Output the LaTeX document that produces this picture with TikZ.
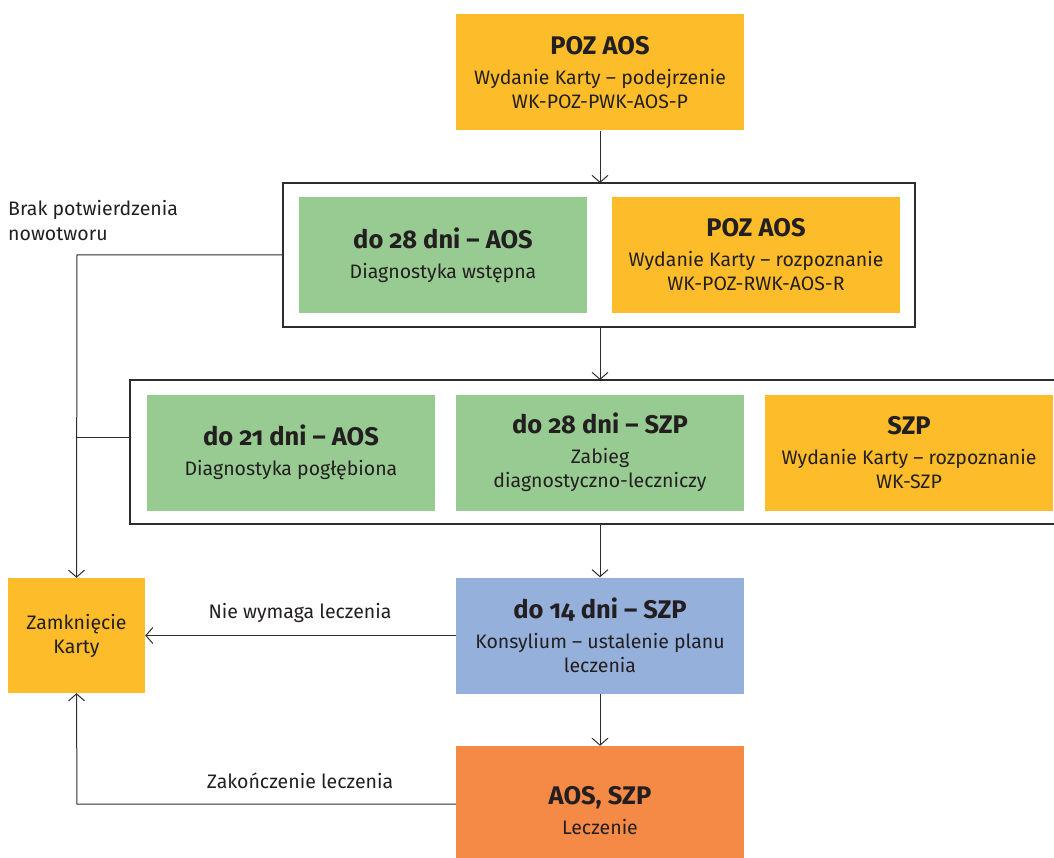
\documentclass[tikz,border=0pt]{standalone}
\usepackage{fontspec}
\setmainfont{Fira Sans}[Numbers=OldStyle]
\usetikzlibrary{arrows.meta}
\definecolor{cyel}{RGB}{253,188,42}
\definecolor{cgrn}{RGB}{152,203,146}
\definecolor{cblu}{RGB}{149,176,219}
\definecolor{corg}{RGB}{245,138,70}
\definecolor{ctxt}{RGB}{35,31,32}
\definecolor{cline}{RGB}{45,45,45}
\newcommand{\ttl}[1]{{\fontsize{25.5}{28}\selectfont\bfseries #1}\\[6pt]}
\tikzset{
  box/.style={inner sep=0pt, minimum width=288pt, minimum height=116pt, align=center, text=ctxt,
    font=\fontsize{19.5}{24}\selectfont},
  frame/.style={draw=cline, line width=1.3pt, fill=none},
  conn/.style={draw=cline, line width=1pt, -{Straight Barb[length=7pt,width=16pt,line width=1pt]}},
  plain/.style={draw=cline, line width=1pt},
  lbl/.style={text=ctxt, font=\fontsize{19.5}{24}\selectfont, inner sep=0pt}
}
\begin{document}
\begin{tikzpicture}[x=1pt,y=-1pt]
\useasboundingbox (0,0) rectangle (1054,858);
\clip (0,0) rectangle (1054,858);
% frames
\draw[frame] (283,183) rectangle (915,327);
\draw[frame] (130,380) rectangle (1070,524);
\coordinate (f1t) at (600,183);
\coordinate (f1b) at (600,327);
\coordinate (f2t) at (600,380);
\coordinate (f2b) at (600,524);
\coordinate (f1l) at (283,255);
\coordinate (f2l) at (130,437);
% boxes
\node[box, fill=cyel] (poz1) at (600,72.5) {\ttl{POZ AOS}Wydanie Karty – podejrzenie\\WK-POZ-PWK-AOS-P};
\node[box, fill=cgrn] (d28) at (443,255) {\ttl{do 28 dni – AOS}Diagnostyka wstępna};
\node[box, fill=cyel] (poz2) at (756,255) {\ttl{POZ AOS}Wydanie Karty – rozpoznanie\\WK-POZ-RWK-AOS-R};
\node[box, fill=cgrn] (d21) at (291,452.5) {\ttl{do 21 dni – AOS}Diagnostyka pogłębiona};
\node[box, fill=cgrn] (d28s) at (600,452.5) {\ttl{do 28 dni – SZP}Zabieg\\diagnostyczno-leczniczy};
\node[box, fill=cyel] (szp) at (909,452.5) {\ttl{SZP}Wydanie Karty – rozpoznanie\\WK-SZP};
\node[box, fill=cblu] (d14) at (600,635.5) {\ttl{do 14 dni – SZP}Konsylium – ustalenie planu\\leczenia};
\node[box, fill=corg, minimum height=130pt] (lecz) at (600,811) {\ttl{AOS, SZP}Leczenie};
\node[box, fill=cyel, minimum width=137pt, minimum height=115pt] (zam) at (76.5,635.5) {Zamknięcie\\Karty};
% connectors
\draw[conn] (poz1.south) -- (f1t);
\draw[conn] (f1b) -- (f2t);
\draw[conn] (f2b) -- (d14.north);
\draw[conn] (d14.south) -- (lecz.north);
\draw[conn] (d14.west) -- (zam.east);
\coordinate (j1) at (77,255);
\coordinate (j2) at (77,437);
\coordinate (j3) at (77,804);
\draw[plain] (f2l) -- (j2);
\draw[conn] (f1l) -- (j1) -- (zam.north);
\draw[conn] (lecz.west |- j3) -- (j3) -- (zam.south);
% labels
\node[lbl, anchor=north west, align=left, font=\fontsize{19.5}{25}\selectfont] (brak) at (8,200) {Brak potwierdzenia\\nowotworu};
\node[lbl] (nie) at (300,613) {Nie wymaga leczenia};
\node[lbl] (zak) at (300,781) {Zakończenie leczenia};
\end{tikzpicture}
\end{document}
